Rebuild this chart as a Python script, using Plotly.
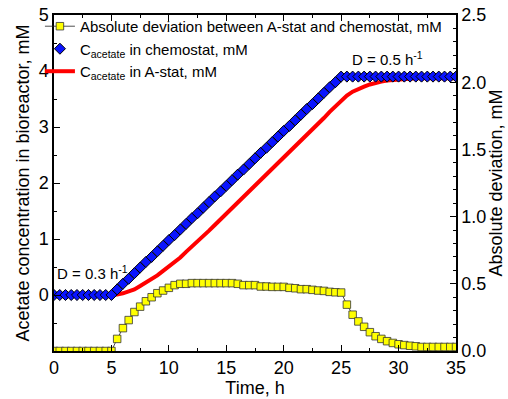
import plotly.graph_objects as go

time_h = [i * 0.5 for i in range(71)]

chemostat_mM = [0]*11 + [
    0.10, 0.20, 0.29, 0.39, 0.49, 0.59, 0.68, 0.78, 0.88, 0.98,
    1.07, 1.17, 1.27, 1.37, 1.46, 1.56, 1.66, 1.76, 1.85, 1.95,
    2.05, 2.15, 2.24, 2.34, 2.44, 2.54, 2.63, 2.73, 2.83, 2.93,
    3.02, 3.12, 3.22, 3.32, 3.41, 3.51, 3.61, 3.71, 3.80, 3.90,
] + [3.90]*20

astat_mM = [0]*11 + [
    0.01, 0.03, 0.06, 0.10, 0.16, 0.22, 0.28, 0.35, 0.43, 0.51,
    0.58, 0.67, 0.77, 0.86, 0.96, 1.06, 1.15, 1.25, 1.35, 1.45,
    1.54, 1.65, 1.75, 1.85, 1.95, 2.06, 2.15, 2.25, 2.35, 2.45,
    2.55, 2.65, 2.76, 2.86, 2.96, 3.06, 3.16, 3.27, 3.37, 3.47,
    3.56, 3.63, 3.68, 3.72, 3.76, 3.79, 3.81, 3.83, 3.84, 3.85,
    3.86, 3.86, 3.87, 3.87, 3.87, 3.87, 3.87, 3.87, 3.87, 3.87,
]

deviation_mM = [0]*11 + [
    0.09, 0.17, 0.23, 0.29, 0.33, 0.37, 0.40, 0.43, 0.45, 0.47,
    0.49, 0.50, 0.50, 0.505, 0.505, 0.505, 0.505, 0.505, 0.505, 0.505,
    0.505, 0.50, 0.49, 0.49, 0.49, 0.48, 0.48, 0.477, 0.477, 0.477,
    0.47, 0.467, 0.46, 0.46, 0.455, 0.45, 0.447, 0.44, 0.437, 0.435,
    0.345, 0.27, 0.22, 0.18, 0.14, 0.11, 0.09, 0.073, 0.06, 0.05,
    0.044, 0.039, 0.035, 0.03, 0.03, 0.03, 0.03, 0.03, 0.03, 0.03,
]

FONT = "Liberation Sans, Arial, sans-serif"

fig = go.Figure()

fig.add_trace(go.Scatter(
    x=time_h, y=astat_mM, mode="lines",
    line=dict(color="#ff0000", width=4),
    name="C<sub>acetate</sub> in A-stat, mM", legendrank=3,
))
fig.add_trace(go.Scatter(
    x=time_h, y=chemostat_mM, mode="markers",
    marker=dict(symbol="diamond", size=8.5, color="#0a14ff",
                line=dict(color="#000000", width=1)),
    name="C<sub>acetate</sub> in chemostat, mM", legendrank=2,
))
fig.add_trace(go.Scatter(
    x=time_h, y=deviation_mM, mode="lines+markers", yaxis="y2",
    line=dict(color="#222222", width=0.8),
    marker=dict(symbol="square", size=7.5, color="#ffff00",
                line=dict(color="#333333", width=0.8)),
    name="Absolute deviation between A-stat and chemostat, mM", legendrank=1,
))

fig.add_annotation(x=0.1, y=0.4, xref="x", yref="y", text="D = 0.3 h<sup>-1</sup>",
                   showarrow=False, xanchor="left", yanchor="middle",
                   font=dict(family=FONT, size=15, color="black"))
fig.add_annotation(x=25.8, y=4.22, xref="x", yref="y", text="D = 0.5 h<sup>-1</sup>",
                   showarrow=False, xanchor="left", yanchor="middle",
                   font=dict(family=FONT, size=15, color="black"))

axis_common = dict(showline=True, linecolor="black", linewidth=1.5,
                   ticks="inside", ticklen=6, tickwidth=1, tickcolor="black",
                   showgrid=False, zeroline=False, automargin=False,
                   tickfont=dict(family=FONT, size=18, color="black"))

fig.update_layout(
    width=508, height=399,
    margin=dict(l=54, r=52, t=10, b=48),
    plot_bgcolor="white", paper_bgcolor="white",
    font=dict(family=FONT, color="black"),
    showlegend=True,
    legend=dict(x=-0.035, y=1.015, xanchor="left", yanchor="top",
                bgcolor="rgba(0,0,0,0)", font=dict(family=FONT, size=15),
                tracegroupgap=0, itemwidth=30),
    xaxis=dict(range=[0, 35], dtick=5, tick0=0, mirror="ticks",
               minor=dict(dtick=2.5, ticklen=3, ticks="inside", tickcolor="black"),
               title=dict(text="Time, h", font=dict(family=FONT, size=18), standoff=2),
               **axis_common),
    yaxis=dict(range=[-1, 5], tickmode="array", tickvals=[0, 1, 2, 3, 4, 5],
               minor=dict(tickmode="linear", tick0=-1, dtick=0.5, ticklen=3,
                          ticks="inside", tickcolor="black"),
               title=dict(text="Acetate concentration in bioreactor, mM",
                          font=dict(family=FONT, size=18), standoff=4),
               **axis_common),
    yaxis2=dict(range=[0, 2.5], dtick=0.5, tick0=0, tickformat=".1f",
                overlaying="y", side="right",
                minor=dict(dtick=0.1, ticklen=3, ticks="inside", tickcolor="black"),
                title=dict(text="Absolute deviation, mM",
                           font=dict(family=FONT, size=18), standoff=4),
                **axis_common),
)

fig.write_html("out.html")
